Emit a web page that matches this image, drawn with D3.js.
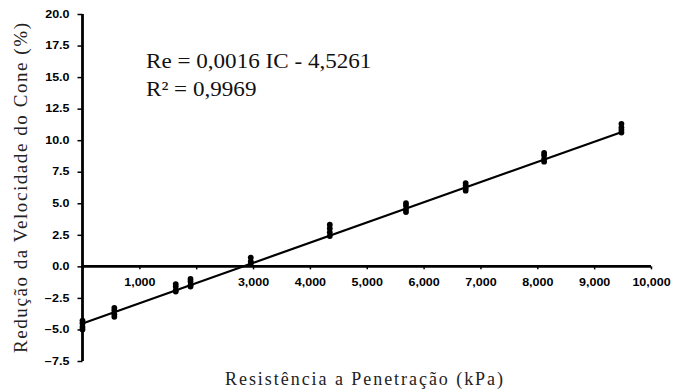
<!DOCTYPE html>
<html>
<head>
<meta charset="utf-8">
<script src="https://cdn.jsdelivr.net/npm/d3@7"></script>
<style>
  body { margin: 0; background: #fff; }
  svg { display: block; }
</style>
</head>
<body>
<svg id="chart" width="681" height="391"></svg>
<script>
// resistência (kPa) e redução (%)
const resistencia = [
  0, 0, 0, 0,
  560, 560, 560, 560,
  1640, 1640, 1640, 1640,
  1900, 1900, 1900, 1900,
  2960, 2960, 2960,
  4350, 4350, 4350, 4350,
  5690, 5690, 5690, 5690,
  6740, 6740, 6740, 6740,
  8120, 8120, 8120, 8120,
  9480, 9480, 9480, 9480
];
const reducao = [
  -4.3, -4.5, -4.8, -5.0,
  -3.3, -3.5, -3.8, -4.0,
  -1.4, -1.6, -1.9, -2.0,
  -1.0, -1.2, -1.5, -1.6,
  0.7, 0.4, 0.2,
  3.3, 3.0, 2.7, 2.4,
  5.0, 4.8, 4.5, 4.3,
  6.6, 6.4, 6.2, 6.0,
  9.0, 8.8, 8.5, 8.3,
  11.3, 11.0, 10.8, 10.6
];
const regCoef = [0.0016, -4.5261];  // inclinação, intercepto
const regRange = [0, 9500];
const xTicks = [0, 1000, 2000, 3000, 4000, 5000, 6000, 7000, 8000, 9000, 10000];
const xTickLabels = ["", "1,000", "", "3,000", "4,000", "5,000", "6,000", "7,000", "8,000", "9,000", "10,000"];
const yTicks = [-7.5, -5, -2.5, 0, 2.5, 5, 7.5, 10, 12.5, 15, 17.5, 20];
const eqLines = ["Re = 0,0016 IC - 4,5261", "R² = 0,9969"];

const svg = d3.select("#chart");
const x = d3.scaleLinear().domain([0, 10000]).range([82.5, 651]);
const y = d3.scaleLinear().domain([-7.5, 20]).range([361, 14]);

// estica o texto na horizontal (imagem original achatada)
function stretch(sel, k) {
  sel.each(function () {
    const w = this.getComputedTextLength();
    d3.select(this).attr("textLength", w * k).attr("lengthAdjust", "spacingAndGlyphs");
  });
}

// eixo Y
const gy = svg.append("g").attr("transform", `translate(${x(0)},0)`)
  .call(d3.axisLeft(y).tickValues(yTicks).tickFormat(d3.format(".1f")).tickSize(5).tickPadding(8));
gy.select(".domain").attr("stroke-width", 2.8).attr("d", `M0,${y(20)}V${y(-7.5)}`);
gy.selectAll(".tick line").attr("stroke-width", 1.5);
gy.selectAll(".tick text")
  .style("font-family", "Liberation Sans, Arial, sans-serif")
  .style("font-weight", "bold")
  .style("font-size", "10px")
  .attr("fill", "#000")
  .call(stretch, 1.25);

// eixo X (no zero)
const gx = svg.append("g").attr("transform", `translate(0,${y(0)})`)
  .call(d3.axisBottom(x).tickValues(xTicks).tickFormat((d, i) => xTickLabels[i]).tickSize(3).tickPadding(10));
gx.select(".domain").attr("stroke-width", 2.8).attr("d", `M${x(0)},0H${x(10000)}`);
gx.selectAll(".tick line").attr("stroke-width", 1.5);
gx.selectAll(".tick text")
  .style("font-family", "Liberation Sans, Arial, sans-serif")
  .style("font-weight", "bold")
  .style("font-size", "10px")
  .attr("fill", "#000")
  .call(stretch, 1.25);

// reta de regressão
const line = d3.line().x(d => x(d)).y(d => y(regCoef[0] * d + regCoef[1]));
svg.append("path")
  .datum(regRange)
  .attr("d", line)
  .attr("fill", "none")
  .attr("stroke", "#000")
  .attr("stroke-width", 2.2);

// pontos
svg.append("g").selectAll("circle")
  .data(resistencia)
  .enter()
  .append("circle")
  .attr("cx", d => x(d))
  .attr("cy", (d, i) => y(reducao[i]))
  .attr("r", 2.9)
  .attr("fill", "#000");

// equação
svg.append("g").selectAll("text")
  .data(eqLines)
  .enter()
  .append("text")
  .attr("x", 146)
  .attr("y", (d, i) => 68 + i * 28)
  .style("font-family", "Liberation Serif, Times New Roman, serif")
  .style("font-size", "21px")
  .attr("fill", "#111")
  .text(d => d)
  .call(stretch, 1.1);

// títulos dos eixos
svg.append("text")
  .attr("x", 364)
  .attr("y", 385)
  .attr("text-anchor", "middle")
  .style("font-family", "Liberation Serif, Times New Roman, serif")
  .style("font-size", "18px")
  .attr("fill", "#222")
  .attr("textLength", 278)
  .attr("lengthAdjust", "spacing")
  .text("Resistência a Penetração (kPa)");

svg.append("text")
  .attr("transform", "translate(27,188) rotate(-90)")
  .attr("text-anchor", "middle")
  .style("font-family", "Liberation Serif, Times New Roman, serif")
  .style("font-size", "19px")
  .attr("fill", "#222")
  .attr("textLength", 330)
  .attr("lengthAdjust", "spacing")
  .text("Redução da Velocidade do Cone (%)");
</script>
</body>
</html>
